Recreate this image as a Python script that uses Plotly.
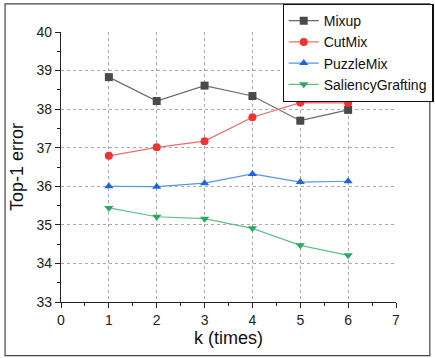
import plotly.graph_objects as go

k = [1, 2, 3, 4, 5, 6]
mixup = [38.83, 38.21, 38.61, 38.34, 37.70, 37.98]
cutmix = [36.79, 37.01, 37.17, 37.79, 38.17, 38.16]
puzzlemix = [36.00, 35.99, 36.08, 36.32, 36.11, 36.13]
saliency = [35.44, 35.21, 35.16, 34.91, 34.47, 34.21]

series = [
    ("Mixup", mixup, "#4a4a4a", "#6a6a6a", "square"),
    ("CutMix", cutmix, "#f03232", "#f26b6b", "circle"),
    ("PuzzleMix", puzzlemix, "#1a66e0", "#5a95ee", "triangle-up"),
    ("SaliencyGrafting", saliency, "#2ea860", "#5fc088", "triangle-down"),
]

FONT = "Liberation Sans, Arial"

fig = go.Figure()
for name, vals, mc, lc, sym in series:
    fig.add_trace(go.Scatter(
        x=k, y=vals, name=name, mode="lines+markers",
        line=dict(color=lc, width=1.2),
        marker=dict(color=mc, symbol=sym, size=8),
    ))

axis_common = dict(
    showline=True, linecolor="#222", linewidth=1.2,
    ticks="outside", ticklen=5, tickcolor="#222",
    showgrid=True, gridcolor="#aaaaaa", griddash="dot", gridwidth=1,
    zeroline=False, mirror=False, automargin=False,
    tickfont=dict(family=FONT, size=14, color="#222"),
)

fig.update_xaxes(range=[0, 7], dtick=1, tick0=0,
                 minor=dict(ticks="outside", dtick=0.5, ticklen=3, tickcolor="#222", showgrid=False),
                 title=dict(text="k (times)", font=dict(family=FONT, size=18, color="#111"), standoff=3),
                 **axis_common)
fig.update_yaxes(range=[33, 40], dtick=1, tick0=33,
                 minor=dict(ticks="outside", dtick=0.5, ticklen=3, tickcolor="#222", showgrid=False),
                 title=dict(text="Top-1 error", font=dict(family=FONT, size=18, color="#111"), standoff=8),
                 **axis_common)

fig.add_shape(type="rect", xref="paper", yref="paper",
              x0=-0.167, x1=1.101, y0=-0.1985, y1=1.104,
              line=dict(color="#444", width=1.2), fillcolor="rgba(0,0,0,0)", layer="above")

fig.update_layout(
    width=435, height=358,
    margin=dict(l=61, r=39, t=32, b=56, autoexpand=False),
    paper_bgcolor="white", plot_bgcolor="white",
    showlegend=True,
    legend=dict(x=1.112, y=1.104, xanchor="right", yanchor="top",
                bgcolor="white", bordercolor="#111", borderwidth=1.2,
                font=dict(family=FONT, size=14, color="#111"),
                tracegroupgap=0, itemwidth=30),
    font=dict(family=FONT),
)

fig.write_html("out.html", config={"displayModeBar": False},
               post_script="document.body.style.margin='0px';document.body.style.padding='0px';")
